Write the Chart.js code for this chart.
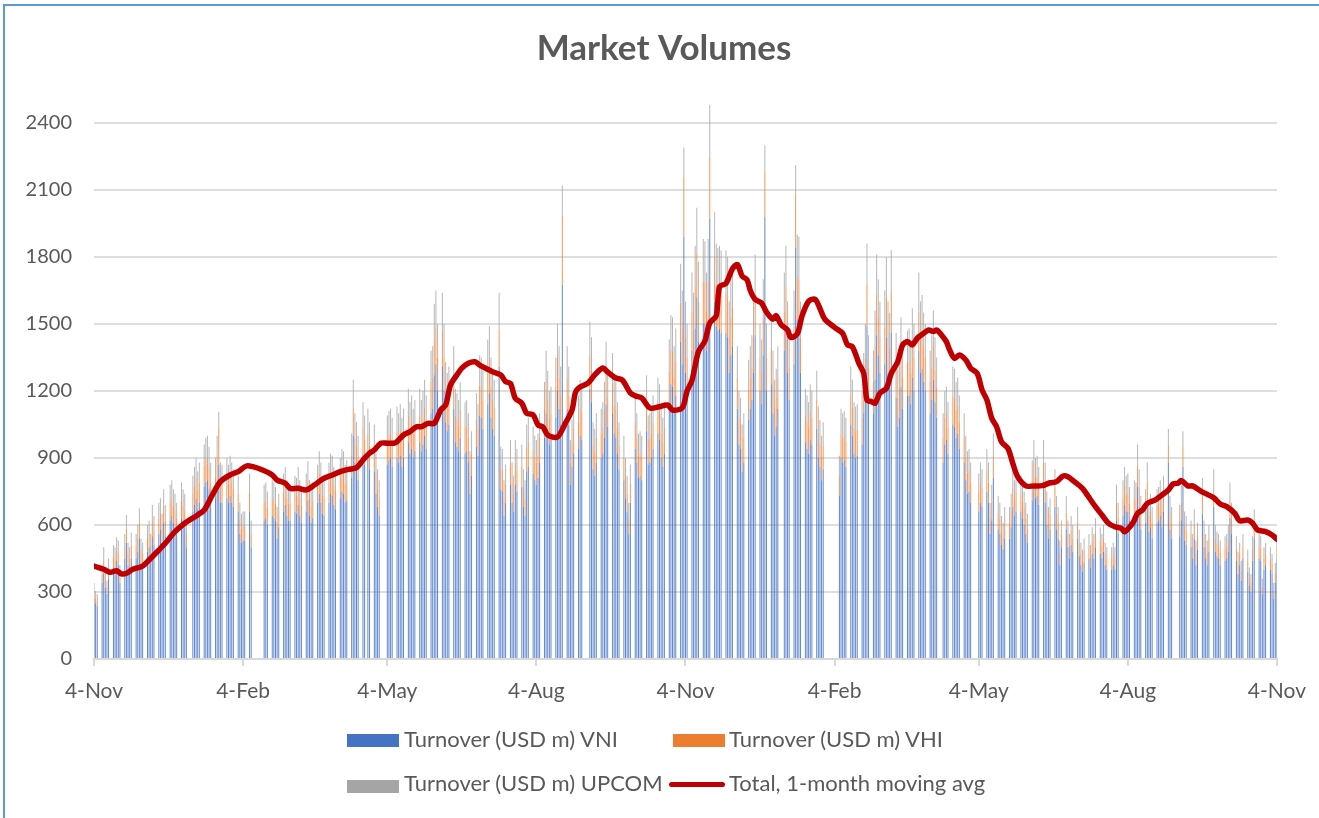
<!DOCTYPE html>
<html><head><meta charset="utf-8">
<script src="https://cdn.jsdelivr.net/npm/chart.js@4.4.1/dist/chart.umd.min.js"></script>
<style>
html,body{margin:0;padding:0;background:#fff;}
#wrap{position:relative;width:1319px;height:818px;overflow:hidden;background:#fff;}
canvas{position:absolute;left:0;top:0;}
.frame{position:absolute;left:3px;top:4px;width:1340px;height:840px;border-left:2px solid #5B9BD5;border-top:2px solid #5B9BD5;pointer-events:none;}
.sw{position:absolute;width:52px;height:13px;}
.tx{position:absolute;font-family:Lato,sans-serif;font-size:22px;color:#595959;line-height:26px;height:26px;white-space:nowrap;}
</style></head>
<body><div id="wrap"><canvas id="c" width="1319" height="818"></canvas>
<div class="frame"></div>
<div class="sw" style="left:347px;top:734px;background:#4472C4"></div>
<div class="tx" style="left:404px;top:726px">Turnover (USD m) VNI</div>
<div class="sw" style="left:673px;top:734px;background:#ED7D31"></div>
<div class="tx" style="left:729px;top:726px">Turnover (USD m) VHI</div>
<div class="sw" style="left:347px;top:780px;background:#A5A5A5"></div>
<div class="tx" style="left:404px;top:770px">Turnover (USD m) UPCOM</div>
<div class="sw" style="left:669px;top:782px;width:56px;height:5px;border-radius:3px;background:#C00000"></div>
<div class="tx" style="left:729px;top:770px">Total, 1-month moving avg</div>
</div>
<script>
const _ = null;
// x-axis: days since 4-Nov (first trading day), tick labels every 3 months
const tickDays = [0, 92, 181, 273, 365, 457, 546, 638, 730];
const tickLabels = ['4-Nov','4-Feb','4-May','4-Aug','4-Nov','4-Feb','4-May','4-Aug','4-Nov'];
// y-axis tick labels
const yTicks = [0, 300, 600, 900, 1200, 1500, 1800, 2100, 2400];

// Daily turnover (USD m), one row per week (Mon..Fri), first week starts Mon before 4-Nov; null = closed
const vni = [
[_,_,270,250,235],[340,380,320,290,360],[410,400,440,420,340],[450,520,420,400,450],[450,480,540,430,420],
[480,500,450,550,510],[560,580,520,610,550],[620,640,610,590,560],[630,610,590,500,_],[660,690,720,670,700],
[770,790,800,760,700],[720,800,870,700,700],[720,700,730,700,680],[660,560,520,530,530],[660,500,_,_,_],
[_,_,620,630,600],[640,630,620,540,590],[660,690,640,620,620],[660,650,690,640,610],[660,710,640,610,630],
[700,740,700,650,640],[700,740,730,690,670],[720,750,740,700,710],[810,1000,880,850,800],[920,870,_,900,850],
[840,740,680,640,_],[_,870,890,900,860],[900,880,910,860,900],[970,920,940,900,930],[970,930,960,1000,940],
[1100,1120,1270,1320,1200],[1310,1200,1060,1020,1050],[1120,970,950,930,990],[920,930,880,740,820],[950,910,1090,1080,1030],
[1140,1190,1080,1030,1000],[1310,760,750,640,700],[780,700,660,780,750],[770,680,640,840,860],[830,800,780,810,880],
[990,1100,1030,960,980],[1080,1200,1120,1050,1675],[1120,1050,780,860,920],[940,1000,980,_,_],[1210,1150,850,820,880],
[900,920,990,1140,1040],[1100,1010,990,920,850],[800,720,660,560,700],[940,880,810,820,800],[1020,870,880,900,940],
[1010,980,900,860,920],[1140,1230,1220,1120,1180],[1420,1320,1890,1280,1200],[1380,1310,1480,1620,1420],[1500,1500,1380,1500,1970],
[1600,1490,1470,1480,1460],[1460,1440,1280,1360,1400],[1120,960,940,840,880],[1070,1120,1160,1280,1450],[1200,1140,1360,1980,1200],
[1230,1100,1000,1040,1120],[_,1380,1480,1280,1160],[1320,1840,1520,1510,1280],[970,940,920,980,960],[1030,900,860,800,850],
[_,_,_,_,_],[730,900,880,890,860],[1050,1000,920,900,910],[960,1100,1200,1490,1160],[1100,1250,1450,1360,1280],
[1320,1440,1280,1240,1460],[1170,1040,1080,1220,1120],[1180,1180,1140,1260,1200],[1380,1280,1300,1240,1200],[1100,1160,1250,1150,1080],
[_,880,960,980,920],[1050,1040,990,1010,940],[880,800,740,750,700],[_,_,660,700,680],[750,700,560,620,810],
[580,560,510,490,540],[540,590,680,640,660],[660,630,600,560,520],[710,780,720,730,690],[780,700,600,540,580],
[680,580,540,420,500],[580,500,450,510,480],[540,460,420,390,430],[450,410,470,450,500],[470,450,480,420,400],
[400,420,400,620,560],[640,690,660,660,620],[640,630,770,680,580],[610,700,570,590,540],[610,620,640,590,660],
[880,580,540,_,_],[550,620,860,530,510],[500,450,540,420,490],[650,500,450,420,480],[680,480,460,450,420],
[440,450,480,630,560],[440,380,420,350,450],[390,330,300,440,540],[450,440,290,400,420],[400,380,270,340,450]
];
const vhi = [
[_,_,35,25,25],[40,60,35,30,45],[50,50,50,55,40],[55,65,50,50,60],[55,60,70,55,50],
[60,60,55,70,65],[70,70,65,75,70],[80,80,75,75,70],[80,75,75,60,_],[80,85,90,85,90],
[95,100,100,95,90],[90,100,170,90,85],[90,85,90,90,85],[80,70,65,65,65],[85,60,_,_,_],
[_,_,80,80,75],[80,80,75,70,75],[85,85,80,75,80],[80,80,85,80,75],[85,90,80,75,80],
[85,95,90,80,80],[90,90,90,85,85],[90,95,95,85,90],[100,125,110,105,100],[115,110,_,110,105],
[105,90,85,80,_],[_,110,110,110,110],[115,110,115,110,110],[120,115,120,110,115],[120,115,120,125,120],
[140,140,160,165,150],[165,150,135,130,130],[140,120,120,115,125],[115,115,110,95,100],[120,115,135,135,130],
[145,150,135,130,125],[165,95,95,80,85],[100,90,80,100,95],[95,85,80,105,110],[105,100,100,100,110],
[125,140,130,120,120],[135,150,140,130,310],[140,130,100,105,115],[120,125,125,_,_],[150,145,105,105,110],
[110,115,125,140,130],[135,125,125,115,105],[100,90,80,70,85],[120,110,100,100,100],[125,110,110,110,120],
[125,125,110,110,115],[145,155,155,140,150],[175,165,270,160,150],[175,165,185,200,180],[190,185,175,190,280],
[200,185,185,185,185],[185,180,160,170,175],[140,120,115,105,110],[135,140,145,160,180],[150,145,170,200,150],
[155,140,125,130,140],[_,175,185,160,145],[165,240,190,190,160],[120,120,115,125,120],[130,115,105,100,105],
[_,_,_,_,_],[90,110,110,110,110],[130,125,115,115,115],[120,135,150,185,145],[140,155,180,170,160],
[165,180,160,155,185],[145,130,135,155,140],[145,150,140,155,150],[175,160,165,155,150],[140,145,155,145,135],
[_,110,120,120,115],[130,130,125,125,120],[110,100,95,95,90],[_,_,85,90,85],[95,90,70,80,100],
[75,70,65,60,70],[70,75,85,80,85],[80,80,75,70,65],[90,100,90,90,85],[100,90,75,70,70],
[85,75,70,55,60],[75,60,55,65,60],[70,60,50,50,55],[55,50,60,55,65],[60,55,60,50,50],
[50,50,50,80,70],[80,85,80,85,75],[80,80,95,85,75],[75,90,70,75,70],[75,75,80,75,80],
[80,75,70,_,_],[70,80,90,65,65],[60,55,65,55,60],[80,60,55,55,60],[85,60,55,55,55],
[55,55,60,80,70],[55,50,50,45,55],[50,40,40,55,65],[55,55,35,50,50],[50,45,35,45,55]
];
const upcom = [
[_,_,35,30,30],[40,60,35,30,45],[50,50,55,55,40],[55,60,50,50,55],[55,60,65,55,50],
[60,60,55,70,65],[70,70,65,75,70],[80,80,75,75,70],[80,75,75,60,_],[80,85,90,85,90],
[95,100,100,95,90],[90,100,67,90,85],[90,85,90,90,85],[80,70,65,65,65],[85,60,_,_,_],
[_,_,80,80,75],[80,80,75,70,75],[85,85,80,75,80],[80,80,85,80,75],[85,85,80,75,80],
[85,95,90,80,80],[90,90,90,85,85],[90,95,95,85,90],[100,125,110,105,100],[115,110,_,110,105],
[105,90,85,80,_],[_,110,110,110,110],[115,110,115,110,110],[120,115,120,110,115],[120,115,120,125,120],
[140,140,160,165,150],[165,150,135,130,130],[140,120,120,115,125],[115,115,110,95,100],[120,115,135,135,130],
[145,150,135,130,125],[165,95,95,80,85],[100,90,80,100,95],[95,85,80,105,110],[105,100,100,100,110],
[125,140,130,120,120],[135,150,140,130,135],[140,130,100,105,115],[120,125,125,_,_],[150,145,105,105,110],
[110,115,125,140,130],[135,125,125,115,105],[100,90,80,70,85],[120,110,100,100,100],[125,110,110,110,120],
[125,125,110,110,115],[145,155,155,140,150],[175,165,130,160,150],[175,165,185,200,180],[190,185,175,190,230],
[200,185,185,185,185],[185,180,160,170,175],[140,120,115,105,110],[135,140,145,160,180],[150,145,170,120,150],
[155,140,125,130,140],[_,175,185,160,145],[165,130,190,190,160],[120,120,115,125,120],[130,115,105,100,105],
[_,_,_,_,_],[90,110,110,110,110],[130,125,115,115,115],[120,135,150,185,145],[140,155,180,170,160],
[165,180,160,155,185],[145,130,135,155,140],[145,150,140,155,150],[175,160,165,155,150],[140,145,155,145,135],
[_,110,120,120,115],[130,130,125,125,120],[110,100,95,95,90],[_,_,85,90,85],[95,90,70,80,100],
[75,70,65,60,70],[70,75,85,80,85],[80,80,75,70,65],[90,100,90,90,85],[100,90,75,70,70],
[85,75,70,55,60],[75,60,55,65,60],[70,60,50,50,55],[55,50,60,55,65],[60,55,60,50,50],
[50,50,50,80,70],[80,85,80,85,75],[80,80,95,85,75],[75,90,70,75,70],[75,75,80,75,80],
[70,75,70,_,_],[70,80,70,65,65],[60,55,65,55,60],[80,60,55,55,60],[85,60,55,55,55],
[55,55,60,80,70],[55,50,50,45,55],[50,40,40,55,65],[55,55,35,50,50],[50,45,35,45,55]
];

// Total, 1-month moving average (day offset, USD m)
const maDay = [0,6,10,14,17,20,24,30,33,39,44,50,56,64,68,73,78,84,89,94,98,104,110,113,118,121,126,131,136,141,147,152,157,162,166,170,173,177,181,185,187,191,195,199,202,206,210,214,217,220,224,227,231,235,238,243,246,251,254,257,260,264,267,271,274,277,280,286,291,295,297,299,305,309,314,317,322,326,331,334,338,343,348,354,357,363,366,369,373,377,380,384,386,390,394,397,400,403,405,408,412,415,419,421,424,428,430,434,437,441,445,448,451,457,462,465,468,472,475,477,480,482,485,489,492,496,499,502,505,508,512,515,518,520,523,526,528,531,534,538,541,545,548,551,554,557,560,564,567,570,575,580,585,590,594,598,601,605,610,613,618,622,626,630,634,636,641,644,647,650,655,659,663,666,669,671,675,678,683,687,691,695,699,704,707,712,715,718,723,727,730];
const maValue = [416,402,388,395,381,384,402,416,436,480,518,570,608,645,667,734,794,824,839,864,861,846,824,801,787,764,764,757,779,805,824,839,849,857,891,921,936,966,966,966,973,1003,1018,1040,1040,1055,1055,1115,1137,1227,1272,1302,1324,1331,1316,1297,1286,1272,1242,1234,1167,1145,1100,1093,1048,1039,1003,994,1057,1115,1191,1213,1236,1272,1303,1285,1258,1249,1191,1178,1169,1124,1128,1137,1115,1124,1200,1247,1376,1424,1505,1537,1666,1682,1747,1766,1714,1698,1650,1610,1593,1553,1521,1537,1497,1473,1440,1456,1537,1602,1610,1569,1521,1485,1458,1406,1398,1324,1279,1160,1152,1145,1190,1212,1279,1331,1406,1421,1406,1436,1458,1473,1466,1473,1451,1421,1384,1346,1361,1339,1302,1279,1205,1160,1078,1040,973,943,876,816,775,775,776,789,794,819,816,794,764,734,682,645,608,592,585,570,608,652,667,697,712,734,757,784,787,799,775,775,752,737,722,694,682,652,619,622,608,578,570,555,536];

function toPoints(rows) {
  const pts = [];
  rows.forEach((week, k) => week.forEach((v, d) => {
    if (v !== null) pts.push({ x: 7 * k + d - 2, y: v });
  }));
  return pts;
}

const barCommon = { type: 'bar', barThickness: 1, inflateAmount: 0, borderWidth: 0, order: 1, stack: 'daily' };

// centre the title over the same span as the reference (shift its box right)
const titleShift = {
  id: 'titleShift',
  afterLayout(chart) { if (chart.titleBlock) chart.titleBlock.left += 51; }
};

new Chart(document.getElementById('c').getContext('2d'), {
  type: 'bar',
  plugins: [titleShift],
  data: {
    datasets: [
      { label: 'Total, 1-month moving avg', type: 'line', stack: 'ma', order: 0,
        data: maDay.map((d, i) => ({ x: d, y: maValue[i] })),
        borderColor: '#C00000', backgroundColor: '#C00000', borderWidth: 5.5,
        pointRadius: 0, tension: 0.3, fill: false, borderCapStyle: 'round', borderJoinStyle: 'round' },
      { label: 'Turnover (USD m) VNI', ...barCommon, data: toPoints(vni), backgroundColor: 'rgba(68,114,196,0.85)' },
      { label: 'Turnover (USD m) VHI', ...barCommon, data: toPoints(vhi), backgroundColor: 'rgba(237,125,49,0.8)' },
      { label: 'Turnover (USD m) UPCOM', ...barCommon, data: toPoints(upcom), backgroundColor: 'rgba(165,165,165,0.8)' }
    ]
  },
  options: {
    responsive: false, animation: false, devicePixelRatio: 1, events: [],
    layout: { padding: { left: 0, right: 42, top: 0, bottom: 0 } },
    plugins: {
      legend: { display: false },
      tooltip: { enabled: false },
      title: { display: true, text: 'Market Volumes', color: '#595959',
        font: { family: 'Lato', size: 35, weight: 'bold' }, padding: { top: 28, bottom: 30.6 } }
    },
    scales: {
      x: {
        type: 'linear', min: 0, max: 730, offset: false, stacked: true,
        afterBuildTicks: s => { s.ticks = tickDays.map(v => ({ value: v })); },
        afterFit: s => { s.height = 159; },
        ticks: { autoSkip: false, maxRotation: 0, padding: 13, color: '#595959',
          font: { family: 'Lato', size: 21 },
          callback: v => { const i = tickDays.indexOf(v); return i >= 0 ? tickLabels[i] : ''; } },
        grid: { display: true, drawOnChartArea: false, drawTicks: true, tickLength: 7, color: '#d9d9d9', lineWidth: 2, offset: false },
        border: { display: true, color: '#d9d9d9', width: 2 }
      },
      y: {
        min: 0, max: 2500, stacked: true,
        afterBuildTicks: s => { s.ticks = yTicks.map(v => ({ value: v })); },
        afterFit: s => { s.width = 94; },
        ticks: { padding: 22, color: '#595959', font: { family: 'Lato', size: 20 },
          callback: v => String(v) },
        grid: { color: '#dedede', lineWidth: 2, drawTicks: false },
        border: { display: false }
      }
    }
  }
});
</script>
</body></html>
